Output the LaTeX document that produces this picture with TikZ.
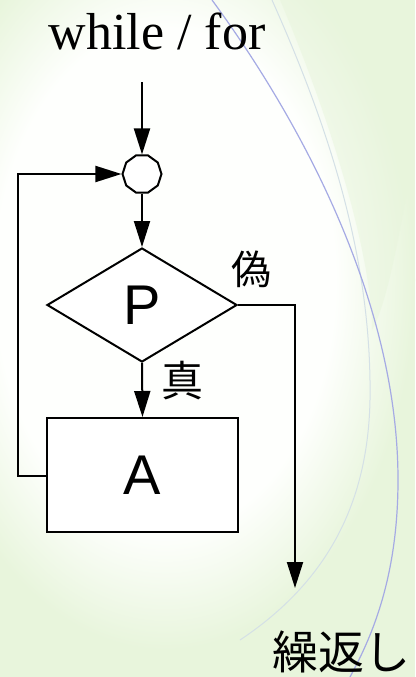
\documentclass[tikz,border=0pt]{standalone}
\usepackage{fontspec}
\setmainfont{Liberation Serif}
\newfontfamily\arialf{Liberation Sans}
\newfontfamily\cjkf{Noto Sans CJK JP}
\usetikzlibrary{shapes.geometric,arrows.meta}
\definecolor{bggreen}{RGB}{232,245,220}
\definecolor{bgwhite}{RGB}{254,255,253}
\definecolor{arcblue}{RGB}{165,170,228}
\definecolor{arcgrey}{RGB}{212,224,230}
\pgfdeclareradialshading{softwhite}{\pgfpoint{0bp}{0bp}}{color(0bp)=(bgwhite); color(17bp)=(bgwhite); color(25bp)=(bggreen); color(50bp)=(bggreen)}
\tikzset{
  flow/.style={line width=2pt, -{Triangle[length=26pt,width=16pt]}},
  shapebox/.style={draw, line width=2pt, fill=white, inner sep=0pt},
  lbl/.style={inner sep=0pt, font=\cjkf\fontsize{40}{40}\selectfont}
}
\begin{document}
\begin{tikzpicture}[x=1pt,y=-1pt]
\useasboundingbox (0,0) rectangle (415,677);
% background
\fill[bggreen] (0,0) rectangle (415,677);
\shade[shading=softwhite] (165,280) ellipse [x radius=250pt, y radius=370pt];
\fill[bggreen, opacity=0.5] (280,0) .. controls (335,130) and (372,260) .. (372,330) .. controls (390,300) and (405,200) .. (415,150) -- (415,0) -- cycle;
\draw[arcgrey, line width=1pt] (272,0) .. controls (330,130) and (372,260) .. (370,400) .. controls (368,500) and (330,580) .. (240,640);
\draw[arcblue, line width=1.2pt] (212,0) .. controls (300,120) and (398,300) .. (398,480) .. controls (398,580) and (370,640) .. (350,677);
% title
\node[inner sep=0pt, anchor=base, font=\fontsize{52}{52}\selectfont] (title) at (157,49) {while / for};
% shapes
\coordinate (start) at (142,82);
\node[shapebox, regular polygon, regular polygon sides=10, minimum size=39pt] (join) at (142,174) {};
\node[shapebox, diamond, minimum width=190pt, minimum height=114pt, font=\arialf\fontsize{56}{56}\selectfont] (cond) at (142,305) {P};
\node[shapebox, rectangle, minimum width=191pt, minimum height=114pt, font=\arialf\fontsize{56}{56}\selectfont] (body) at (142.5,475) {A};
\coordinate (fr) at (295,305);
\coordinate (fend) at (295,588);
\coordinate (lb) at (18,476);
\coordinate (lt) at (18,174);
% connectors
\draw[flow] (start) -- (join.north);
\draw[flow] (join.south) -- (cond.north);
\draw[flow] (cond.south) -- (body.north);
\draw[flow] (cond.east) -- (fr) -- (fend);
\draw[flow] (body.west |- lb) -- (lb) -- (lt) -- (join.west);
% labels
\node[lbl] (false) at (251,269) {偽};
\node[lbl, font=\cjkf\fontsize{42}{42}\selectfont] (true) at (182,381) {真};
\node[lbl, font=\cjkf\fontsize{46}{46}\selectfont] (loop) at (341,652) {繰返し};
\end{tikzpicture}
\end{document}
